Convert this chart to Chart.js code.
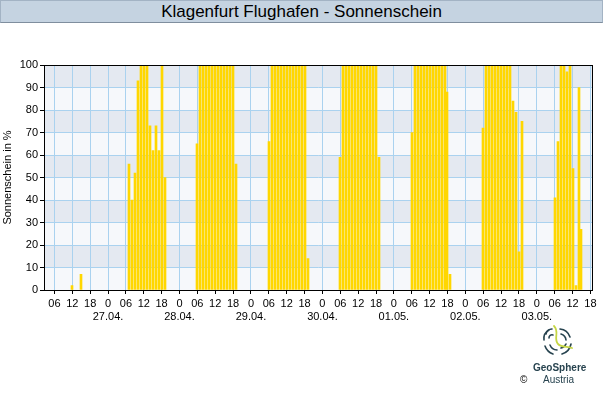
<!DOCTYPE html>
<html>
<head>
<meta charset="utf-8">
<title>Klagenfurt Flughafen - Sonnenschein</title>
<script src="https://cdn.jsdelivr.net/npm/chart.js@4.4.1/dist/chart.umd.min.js"></script>
<style>
  html, body { margin: 0; padding: 0; background: #fff; }
  body { width: 603px; height: 400px; position: relative; overflow: hidden; font-family: "Liberation Sans", Arial, sans-serif; }
  #title { position: absolute; left: 0; top: 0; width: 601px; height: 21px; background: #c5d3e1; border: 1px solid #a3b3c4; border-bottom-color: #7f8e9e; text-align: center; font-size: 17px; line-height: 22px; color: #000; }
  #chartBox { position: absolute; left: 0; top: 0; width: 603px; height: 400px; }
  .logoText { position: absolute; font-size: 10px; color: #27434f; white-space: nowrap; }
</style>
</head>
<body>
<div id="chartBox"><canvas id="sunChart" width="603" height="400"></canvas></div>
<div id="title">Klagenfurt Flughafen - Sonnenschein</div>

<svg style="position:absolute;left:540px;top:324px" width="34" height="34" viewBox="0 0 34 34">
  <g fill="none" stroke="#27434f" stroke-width="1.6" stroke-linecap="round">
    <path d="M6 10 A6 6 0 0 1 12 5"/>
    <path d="M4 16 A10 10 0 0 1 9 6"/>
    <path d="M9 14 A3 3 0 0 1 13 11"/>
    <path d="M5 22 A13 13 0 0 0 13 30"/>
    <path d="M10 21 A8 8 0 0 0 17 26"/>
    <path d="M20 5 A12 12 0 0 1 30 13"/>
    <path d="M21 10 A7 7 0 0 1 26 16"/>
    <path d="M22 30 A13 13 0 0 0 31 20"/>
    <path d="M21 24 A7 7 0 0 0 26 20"/>
  </g>
  <path d="M14 2 C20 8 13 14 18 20 C22 24 28 22 32 24" fill="none" stroke="#c6d645" stroke-width="1.8" stroke-linecap="round"/>
</svg>
<div class="logoText" style="left:533px;top:362px;font-weight:bold;">GeoSphere</div>
<div class="logoText" style="left:543px;top:374px;">Austria</div>
<div class="logoText" style="left:520px;top:374px;color:#000;">©</div>

<script>
// hours counted from 26.04. 00:00 (only hours with sunshine)
const sunHours = [
  12, 15,
  31, 32, 33, 34, 35, 36, 37, 38, 39, 40, 41, 42, 43,
  54, 55, 56, 57, 58, 59, 60, 61, 62, 63, 64, 65, 66, 67,
  78, 79, 80, 81, 82, 83, 84, 85, 86, 87, 88, 89, 90, 91,
  102, 103, 104, 105, 106, 107, 108, 109, 110, 111, 112, 113, 114, 115,
  126, 127, 128, 129, 130, 131, 132, 133, 134, 135, 136, 137, 138, 139,
  150, 151, 152, 153, 154, 155, 156, 157, 158, 159, 160, 161, 162, 163,
  174, 175, 176, 177, 178, 179, 180, 181, 182, 183
];
const sunValues = [
  2, 7,
  56, 40, 52, 93, 100, 100, 100, 73, 62, 73, 62, 100, 50,
  65, 100, 100, 100, 100, 100, 100, 100, 100, 100, 100, 100, 100, 56,
  66, 100, 100, 100, 100, 100, 100, 100, 100, 100, 100, 100, 100, 14,
  59, 100, 100, 100, 100, 100, 100, 100, 100, 100, 100, 100, 100, 59,
  70, 100, 100, 100, 100, 100, 100, 100, 100, 100, 100, 100, 88, 7,
  72, 100, 100, 100, 100, 100, 100, 100, 100, 100, 84, 79, 17, 75,
  41, 66, 100, 100, 97, 100, 54, 2, 90, 27
];

const tickHours = [6, 12, 18, 24, 30, 36, 42, 48, 54, 60, 66, 72, 78, 84, 90, 96,
  102, 108, 114, 120, 126, 132, 138, 144, 150, 156, 162, 168, 174, 180, 186];
const dayLabels = ['27.04.', '28.04.', '29.04.', '30.04.', '01.05.', '02.05.', '03.05.'];
const yTicks = [0, 10, 20, 30, 40, 50, 60, 70, 80, 90, 100];

// alternating horizontal bands + black frame round the plot
const plotBands = {
  id: 'plotBands',
  beforeDraw(chart) {
    const { ctx, chartArea: a, scales: { y } } = chart;
    ctx.save();
    ctx.fillStyle = '#f6f8fb';
    ctx.fillRect(a.left, a.top, a.right - a.left, a.bottom - a.top);
    ctx.fillStyle = '#e4e9f1';
    for (let i = 1; i < yTicks.length - 1; i += 2) {
      const top = y.getPixelForValue(yTicks[i + 1]);
      const bot = y.getPixelForValue(yTicks[i]);
      ctx.fillRect(a.left, top, a.right - a.left, bot - top);
    }
    ctx.restore();
  },
  // snap the thin bars to whole pixels so the 1px gaps stay visible
  beforeDatasetsDraw(chart) {
    chart.getDatasetMeta(0).data.forEach(bar => {
      bar.x = Math.round(bar.x - 1) + 1;
    });
  },
  afterDatasetsDraw(chart) {
    const { ctx, chartArea: a } = chart;
    ctx.save();
    ctx.strokeStyle = '#000';
    ctx.lineWidth = 1;
    ctx.strokeRect(Math.round(a.left) + 0.5, Math.round(a.top) + 0.5,
      Math.round(a.right - a.left) - 1, Math.round(a.bottom - a.top));
    ctx.restore();
  }
};

const font = { family: '"Liberation Sans", Arial, sans-serif', size: 11 };

new Chart(document.getElementById('sunChart'), {
  type: 'bar',
  data: {
    datasets: [{
      data: sunHours.map((h, i) => ({ x: h, y: sunValues[i] })),
      backgroundColor: '#ffd700',
      barThickness: 2,
      borderWidth: 0
    }]
  },
  options: {
    responsive: false,
    animation: false,
    layout: { padding: { top: 65, right: 10.5, left: 0, bottom: 0 } },
    plugins: { legend: { display: false }, tooltip: { enabled: false } },
    scales: {
      x: {
        type: 'linear',
        min: 2.5,
        max: 186.7,
        offset: false,
        afterFit: s => { s.height = 110; },
        afterBuildTicks: s => { s.ticks = tickHours.map(v => ({ value: v })); },
        grid: { color: '#aad2ef', tickColor: '#000', tickLength: 4, offset: false },
        border: { color: '#000' },
        ticks: {
          autoSkip: false,
          maxRotation: 0,
          padding: 3,
          color: '#000',
          font: { ...font, lineHeight: 1.2 },
          callback: v => {
            const h = v % 24;
            if (h === 0) return ['0', dayLabels[v / 24 - 1]];
            return String(h).padStart(2, '0');
          }
        }
      },
      y: {
        min: 0,
        max: 100,
        afterFit: s => { s.width = 44; },
        afterBuildTicks: s => { s.ticks = yTicks.map(v => ({ value: v })); },
        grid: { color: '#aad2ef', tickColor: '#000', tickLength: 4 },
        border: { color: '#000' },
        ticks: { color: '#000', padding: 2, font },
        title: { display: true, text: 'Sonnenschein in %', color: '#000', font, padding: { top: 1, bottom: 0 } }
      }
    }
  },
  plugins: [plotBands]
});
</script>
</body>
</html>
